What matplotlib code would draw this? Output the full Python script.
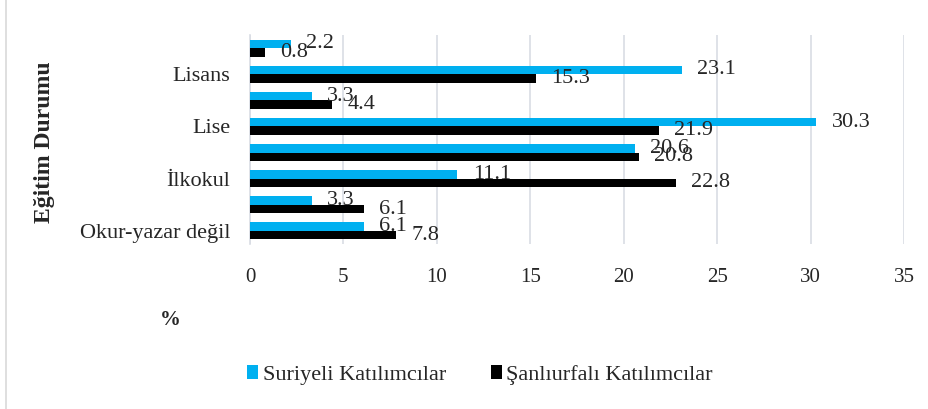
import matplotlib
matplotlib.use("Agg")
import matplotlib.pyplot as plt
from matplotlib.patches import Patch
from matplotlib.lines import Line2D
import numpy as np

plt.rcParams['font.family'] = ['Liberation Serif', 'DejaVu Serif']

categories = ["Okur-yazar değil", "", "İlkokul", "", "Lise", "", "Lisans", ""]
suriyeli = [6.1, 3.3, 11.1, 20.6, 30.3, 3.3, 23.1, 2.2]
sanliurfa = [7.8, 6.1, 22.8, 20.8, 21.9, 4.4, 15.3, 0.8]
series_names = ["Suriyeli Katılımcılar", "Şanlıurfalı Katılımcılar"]
x_ticks = [0, 5, 10, 15, 20, 25, 30, 35]

blue = "#00B0F0"
black = "#000000"
txt = "#262626"

fig = plt.figure(figsize=(9.29, 4.09), dpi=100)
ax = fig.add_axes([250/929, 1-244/409, 654/929, 209/409])

y = np.arange(len(categories))
h = 0.325
b1 = ax.barh(y + h/2, suriyeli, height=h, color=blue, zorder=3)
b2 = ax.barh(y - h/2, sanliurfa, height=h, color=black, zorder=3)

for bars, vals in ((b1, suriyeli), (b2, sanliurfa)):
    for bar, v in zip(bars, vals):
        ax.annotate(f"{v:.1f}", xy=(v, bar.get_y() + bar.get_height()/2),
                    xytext=(11, 0), textcoords="offset points", ha="left", va="center",
                    fontsize=16, color=txt, zorder=4)

ax.set_xlim(0, 35)
ax.set_ylim(-0.5, len(categories) - 0.5)
ax.set_xticks(x_ticks)
ax.set_xticklabels([str(t) for t in x_ticks], fontsize=15, color=txt)
ax.set_yticks(y)
ax.set_yticklabels(categories, fontsize=16, color=txt)
ax.tick_params(axis='x', length=0, pad=17)
ax.tick_params(axis='y', length=0, pad=14)
ax.grid(axis='x', color="#D9DDE4", linewidth=1.2, zorder=0)
for s in ["top", "right", "bottom"]:
    ax.spines[s].set_visible(False)
ax.spines["left"].set_color("#D9DDE4")
ax.spines["left"].set_linewidth(1.2)

fig.text(45/929, 1-142/409, "Eğitim Durumu", rotation=90, ha="center", va="center",
         fontsize=17, fontweight="bold", color=txt)
fig.text(170/929, 1-320/409, "%", ha="center", va="center",
         fontsize=15, fontweight="bold", color=txt)

handles = [Patch(facecolor=blue), Patch(facecolor=black)]
fig.legend(handles, series_names, loc="center", bbox_to_anchor=(480/929, 1-375/409),
           ncol=2, frameon=False, fontsize=16, handlelength=0.5, handleheight=0.6,
           handletextpad=0.2, columnspacing=2.0, labelcolor=txt)

fig.add_artist(Line2D([6/929, 6/929], [0, 1], color="#D9D9D9", linewidth=1.2,
                      transform=fig.transFigure))

fig.savefig("out.png", dpi=100)
